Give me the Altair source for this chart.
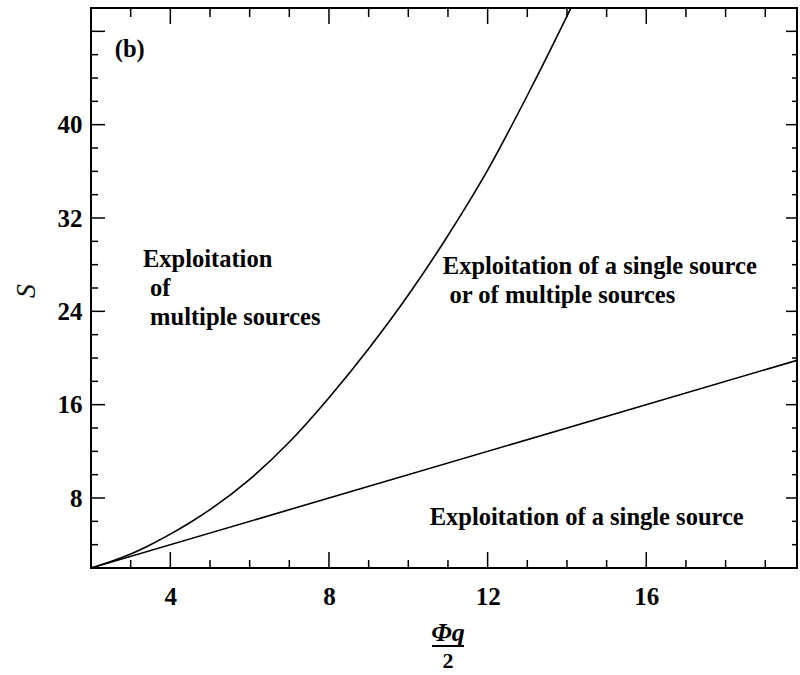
import altair as alt
import pandas as pd

# ---- data ----
phi_curve = [2, 2.5, 3, 3.5, 4, 4.5, 5, 6, 7, 8, 9, 10, 11, 12, 13, 14, 14.1]
s_curve = [2, 2.55, 3.2, 4.0, 4.9, 5.9, 7.0, 9.6, 12.8, 16.6, 20.8, 25.4, 30.5, 36.1, 42.5, 49.3, 50]
phi_line = [2, 19.8]
s_line = [2, 19.8]

x_major = [4, 8, 12, 16]
x_minor = [3, 5, 6, 7, 9, 10, 11, 13, 14, 15, 17, 18, 19]
y_major = [8, 16, 24, 32, 40, 48]
y_minor = [4, 6, 10, 12, 14, 18, 20, 22, 26, 28, 30, 34, 36, 38, 42, 44, 46]
y_labels = [8, 16, 24, 32, 40]

label_text = ["(b)", "Exploitation", "of", "multiple sources",
              "Exploitation of a single source", "or of multiple sources",
              "Exploitation of a single source"]
label_phi = [2.6, 3.31, 3.49, 3.49, 10.87, 11.04, 10.54]
label_s = [46.4, 28.4, 25.9, 23.4, 27.8, 25.3, 6.3]

W, H = 706, 560
FONT = "Liberation Serif"

xs = alt.Scale(domain=[2, 19.8], nice=False, zero=False)
ys = alt.Scale(domain=[2, 50], nice=False, zero=False)

x_axis = alt.Axis(values=x_major, ticks=False, tickSize=0, domain=False, grid=False,
                  labelFont=FONT, labelFontWeight="bold", labelFontSize=25,
                  labelColor="black", labelPadding=16, title=None)
y_axis = alt.Axis(values=y_labels, ticks=False, tickSize=0, domain=False, grid=False,
                  labelFont=FONT, labelFontWeight="bold", labelFontSize=25,
                  labelColor="black", labelPadding=9, title=None)

curves = pd.concat([
    pd.DataFrame({"phi": phi_curve, "S": s_curve, "series": "curve"}),
    pd.DataFrame({"phi": phi_line, "S": s_line, "series": "line"}),
])

lines = alt.Chart(curves).mark_line(color="black", strokeWidth=1.6, clip=True,
                                    interpolate="monotone").encode(
    x=alt.X("phi:Q", scale=xs, axis=x_axis),
    y=alt.Y("S:Q", scale=ys, axis=y_axis),
    detail="series:N",
    order="phi:Q",
)


def xticks(vals, y0, y1):
    return alt.Chart(pd.DataFrame({"phi": vals})).mark_rule(color="black", strokeWidth=1.5).encode(
        x=alt.X("phi:Q", scale=xs, axis=x_axis), y=alt.value(y0), y2=alt.value(y1))


def yticks(vals, x0, x1):
    return alt.Chart(pd.DataFrame({"S": vals})).mark_rule(color="black", strokeWidth=1.5).encode(
        y=alt.Y("S:Q", scale=ys, axis=y_axis), x=alt.value(x0), x2=alt.value(x1))


ticks = [
    xticks(x_major, H, H - 16), xticks(x_minor, H, H - 8),
    xticks(x_major, 0, 16), xticks(x_minor, 0, 9),
    yticks(y_major, 0, 14), yticks(y_minor, 0, 7),
    yticks(y_major, W, W - 11), yticks(y_minor, W, W - 5),
]

labels = alt.Chart(pd.DataFrame({"phi": label_phi, "S": label_s, "t": label_text})).mark_text(
    align="left", baseline="middle", font=FONT, fontWeight="bold", fontSize=24.5, color="black"
).encode(
    x=alt.X("phi:Q", scale=xs, axis=x_axis),
    y=alt.Y("S:Q", scale=ys, axis=y_axis),
    text="t:N",
)

xt_num = alt.Chart(pd.DataFrame({"t": ["Φq"]})).mark_text(
    align="center", baseline="middle", font=FONT, fontWeight="bold", fontStyle="italic",
    fontSize=26, color="black"
).encode(x=alt.value(357), y=alt.value(625), text="t:N")
xt_bar = alt.Chart(pd.DataFrame({"t": ["bar"]})).mark_rule(color="black", strokeWidth=2).encode(
    x=alt.value(341), x2=alt.value(373), y=alt.value(638))
xt_den = alt.Chart(pd.DataFrame({"t": ["2"]})).mark_text(
    align="center", baseline="middle", font=FONT, fontWeight="bold", fontSize=22, color="black"
).encode(x=alt.value(357), y=alt.value(653), text="t:N")
yt = alt.Chart(pd.DataFrame({"t": ["S"]})).mark_text(
    align="center", baseline="middle", font=FONT, fontStyle="italic", fontSize=28,
    color="black", angle=270
).encode(x=alt.value(-64), y=alt.value(283), text="t:N")

chart = alt.layer(lines, *ticks, labels, xt_num, xt_bar, xt_den, yt).properties(
    width=W, height=H,
    padding={"left": 91, "top": 8, "right": 3, "bottom": 107},
    autosize=alt.AutoSizeParams(type="none"),
    background="white",
).configure_view(stroke="black", strokeWidth=2)

chart.save("out.html", embed_options={"renderer": "svg", "actions": False})
